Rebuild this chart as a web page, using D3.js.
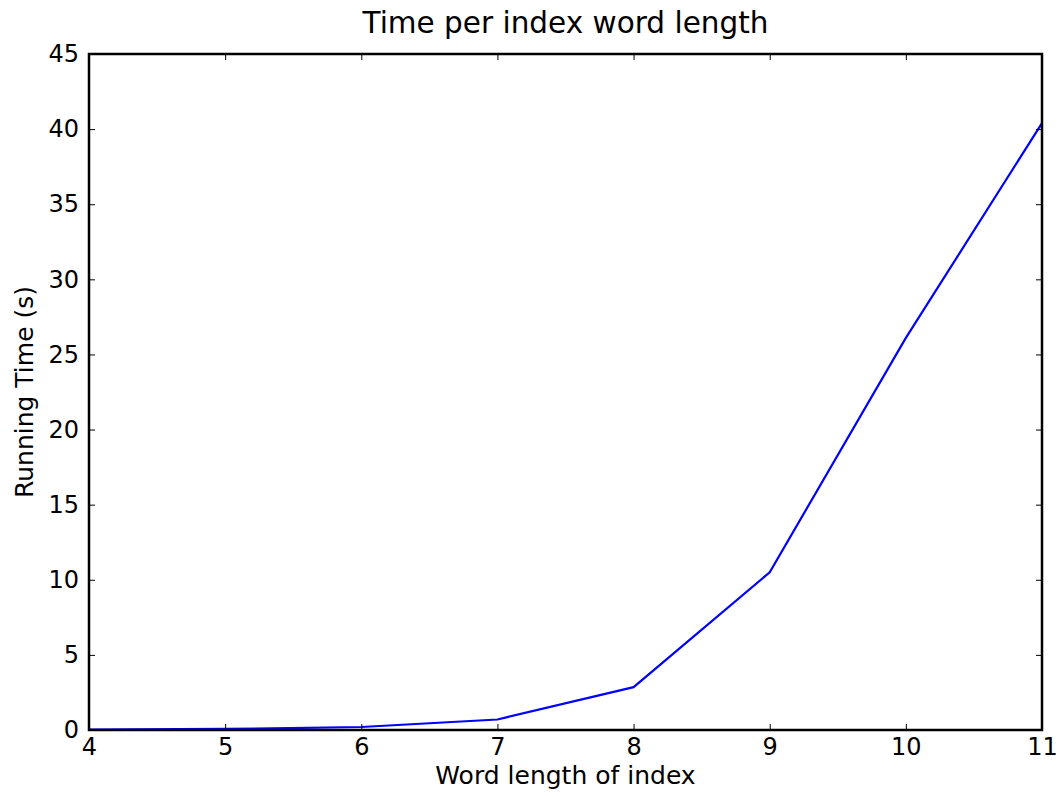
<!DOCTYPE html>
<html>
<head>
<meta charset="utf-8">
<script src="https://cdn.jsdelivr.net/npm/d3@7"></script>
<style>
  body { margin: 0; background: #fff; }
  text { font-family: "DejaVu Sans", sans-serif; fill: #000; }
</style>
</head>
<body>
<div class="svg-container"></div>
<script>
var width = 1062;
var height = 797;

var margin = { "top": 54, "right": 20, "bottom": 67, "left": 89 };

// data
var wordLengths = [4, 5, 6, 7, 8, 9, 10, 11];
var runningTimes = [0.02, 0.07, 0.2, 0.7, 2.85, 10.5, 26.1, 40.4];
var xTicks = [4, 5, 6, 7, 8, 9, 10, 11];
var yTicks = [0, 5, 10, 15, 20, 25, 30, 35, 40, 45];

var innerW = width - margin.left - margin.right;
var innerH = height - margin.top - margin.bottom;

var svg = d3.select(".svg-container")
    .append("svg")
    .attr("width", width)
    .attr("height", height)
    .append("g")
    .attr("transform", "translate(" + margin.left + "," + margin.top + ")");

var scaleX = d3.scaleLinear().domain([4, 11]).range([0, innerW]);
var scaleY = d3.scaleLinear().domain([0, 45]).range([innerH, 0]);

var data = wordLengths.map(function(d, i) { return { x: d, y: runningTimes[i] }; });

// the line
var line = d3.line()
    .x(function(d) { return scaleX(d.x); })
    .y(function(d) { return scaleY(d.y); });

svg.append("path")
    .datum(data)
    .attr("fill", "none")
    .attr("stroke", "#0000ff")
    .attr("stroke-width", 2.2)
    .attr("d", line);

// axes, ticks pointing inwards like matplotlib
function styleAxis(g) {
  g.select(".domain").remove();
  g.selectAll(".tick line").attr("stroke", "#000").attr("stroke-width", 1);
  g.selectAll(".tick text").style("font-size", "24px").style("font-family", "DejaVu Sans, sans-serif");
}

svg.append("g")
    .attr("transform", "translate(0," + innerH + ")")
    .call(d3.axisBottom(scaleX).tickValues(xTicks).tickFormat(d3.format("d"))
      .tickSizeInner(-6).tickSizeOuter(0).tickPadding(8))
    .call(styleAxis);

svg.append("g")
    .call(d3.axisTop(scaleX).tickValues(xTicks).tickFormat("")
      .tickSizeInner(-6).tickSizeOuter(0))
    .call(styleAxis);

svg.append("g")
    .call(d3.axisLeft(scaleY).tickValues(yTicks).tickFormat(d3.format("d"))
      .tickSizeInner(-6).tickSizeOuter(0).tickPadding(10))
    .call(styleAxis);

svg.append("g")
    .attr("transform", "translate(" + innerW + ",0)")
    .call(d3.axisRight(scaleY).tickValues(yTicks).tickFormat("")
      .tickSizeInner(-6).tickSizeOuter(0))
    .call(styleAxis);

// frame
svg.append("rect")
    .attr("x", 0)
    .attr("y", 0)
    .attr("width", innerW)
    .attr("height", innerH)
    .attr("fill", "none")
    .attr("stroke", "#000")
    .attr("stroke-width", 2.5);

// title and labels
svg.append("text")
    .attr("x", innerW / 2)
    .attr("y", -21)
    .attr("text-anchor", "middle")
    .style("font-size", "29.5px")
    .text("Time per index word length");

svg.append("text")
    .attr("x", innerW / 2)
    .attr("y", innerH + 54)
    .attr("text-anchor", "middle")
    .style("font-size", "25px")
    .text("Word length of index");

svg.append("text")
    .attr("transform", "rotate(-90)")
    .attr("x", -innerH / 2)
    .attr("y", -56)
    .attr("text-anchor", "middle")
    .style("font-size", "25px")
    .text("Running Time (s)");
</script>
</body>
</html>
